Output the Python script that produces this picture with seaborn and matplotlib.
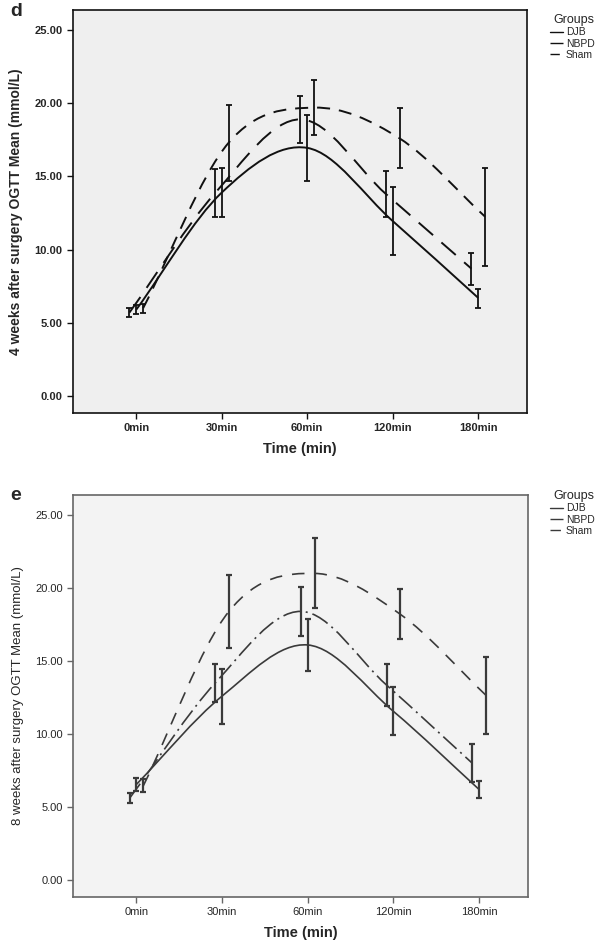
import numpy as np
import matplotlib
matplotlib.use("Agg")
import matplotlib.pyplot as plt
from matplotlib.lines import Line2D
from matplotlib.path import Path
from matplotlib.patches import PathPatch
import seaborn as sns

times = ["0min", "30min", "60min", "120min", "180min"]
groups = ["DJB", "NBPD", "Sham"]

# panel d: 4 weeks after surgery (mean, lower, upper of error bar)
d_mean = {"DJB": [5.9, 13.9, 16.95, 11.95, 6.7],
          "NBPD": [5.7, 13.85, 18.9, 13.8, 8.7],
          "Sham": [6.0, 17.3, 19.7, 17.6, 12.25]}
d_low = {"DJB": [5.6, 12.2, 14.7, 9.6, 6.0],
         "NBPD": [5.4, 12.2, 17.3, 12.2, 7.6],
         "Sham": [5.7, 14.7, 17.8, 15.6, 8.9]}
d_high = {"DJB": [6.2, 15.6, 19.2, 14.3, 7.3],
          "NBPD": [6.0, 15.5, 20.5, 15.4, 9.8],
          "Sham": [6.3, 19.9, 21.6, 19.7, 15.6]}

# panel e: 8 weeks after surgery
e_mean = {"DJB": [6.55, 12.6, 16.1, 11.55, 6.2],
          "NBPD": [5.6, 13.5, 18.4, 13.35, 8.0],
          "Sham": [6.45, 18.4, 21.0, 18.2, 12.65]}
e_low = {"DJB": [6.1, 10.7, 14.3, 9.9, 5.6],
         "NBPD": [5.3, 12.2, 16.7, 11.9, 6.7],
         "Sham": [6.0, 15.9, 18.6, 16.5, 10.0]}
e_high = {"DJB": [7.0, 14.45, 17.9, 13.2, 6.8],
          "NBPD": [5.95, 14.8, 20.1, 14.8, 9.3],
          "Sham": [6.9, 20.9, 23.4, 19.9, 15.3]}

yticks = [0, 5, 10, 15, 20, 25]

sns.set_style("ticks")
plt.rcParams["font.family"] = ["Liberation Sans", "DejaVu Sans"]

fig = plt.figure(figsize=(6.10, 9.46), dpi=100)
W, H = 610, 946


def px_axes(l, t, r, b):
    return fig.add_axes([l / W, 1 - b / H, (r - l) / W, (b - t) / H])


offsets = {"NBPD": -0.08, "DJB": 0.0, "Sham": 0.08}


def smooth_path(x, y):
    # cubic bezier through the points (catmull-rom tangents), like SPSS spline
    p = np.column_stack([x, y])
    n = len(p)
    t = np.zeros_like(p)
    t[0] = p[1] - p[0]
    t[-1] = p[-1] - p[-2]
    for i in range(1, n - 1):
        t[i] = (p[i + 1] - p[i - 1]) / 2
    verts = [p[0]]
    codes = [Path.MOVETO]
    for i in range(n - 1):
        verts += [p[i] + t[i] / 3, p[i + 1] - t[i + 1] / 3, p[i + 1]]
        codes += [Path.CURVE4] * 3
    return Path(verts, codes)


def panel(ax, mean, low, high, styles, col, bg, frame, ylab, bold, lw, ebw):
    ax.set_facecolor(bg)
    base = np.arange(len(times))
    for g in groups:
        x = base + offsets[g]
        m = np.array(mean[g])
        ax.add_patch(PathPatch(smooth_path(x, m), fill=False, edgecolor=col,
                               lw=lw, linestyle=(0, styles[g]) if styles[g] else "-",
                               capstyle="butt"))
        ax.errorbar(x, m, yerr=[m - np.array(low[g]), np.array(high[g]) - m],
                    fmt="none", ecolor=col, elinewidth=ebw, capsize=2.3,
                    capthick=ebw)
    ax.set_xlim(-0.74, 4.57)
    ax.set_ylim(-1.16, 26.37)
    ax.set_yticks(yticks)
    ax.set_yticklabels([f"{v:.2f}" for v in yticks],
                       fontweight="bold" if bold else "normal", fontsize=8)
    ax.set_xticks(base)
    ax.set_xticklabels(times, fontweight="bold" if bold else "normal", fontsize=8)
    ax.tick_params(length=4, width=1, color=frame)
    for s in ax.spines.values():
        s.set_visible(True)
        s.set_color(frame)
        s.set_linewidth(1.2)
    ax.set_xlabel("Time (min)", fontsize=10.5, fontweight="bold", labelpad=6)
    ax.set_ylabel(ylab, fontsize=10 if bold else 9.5,
                  fontweight="bold" if bold else "normal", labelpad=8)
    handles = [Line2D([], [], color=col, lw=1,
                      linestyle=(0, styles[g]) if styles[g] else "-") for g in groups]
    return handles


d_styles = {"DJB": None, "NBPD": (9.8, 5.7), "Sham": (6.7, 4.6)}
e_styles = {"DJB": None, "NBPD": (10.8, 3, 1.2, 3), "Sham": (7.5, 6)}

ax1 = px_axes(73, 10, 527, 413)
h1 = panel(ax1, d_mean, d_low, d_high, d_styles, "#111111", "#EFEFEF", "#111111",
           "4 weeks after surgery OGTT Mean (mmol/L)", True, 1.4, 1.3)
ax2 = px_axes(73, 495, 528, 897)
h2 = panel(ax2, e_mean, e_low, e_high, e_styles, "#3a3a3a", "#F3F3F3", "#666666",
           "8 weeks after surgery OGTT Mean (mmol/L)", False, 1.2, 1.6)

for ax, h, top in [(ax1, h1, 10), (ax2, h2, 486)]:
    leg = ax.legend(h, groups, title="Groups", frameon=False, fontsize=7.5,
                    title_fontsize=9, handlelength=1.2, handletextpad=0.3,
                    labelspacing=0.12, loc="upper left",
                    bbox_to_anchor=(546 / W, 1 - top / H),
                    bbox_transform=fig.transFigure, borderaxespad=0)
    leg._legend_box.align = "right"

fig.text(10 / W, 1 - 12 / H, "d", fontsize=14, fontweight="bold", va="center")
fig.text(10 / W, 1 - 495 / H, "e", fontsize=14, fontweight="bold", va="center")

fig.savefig("out.png", dpi=100)
